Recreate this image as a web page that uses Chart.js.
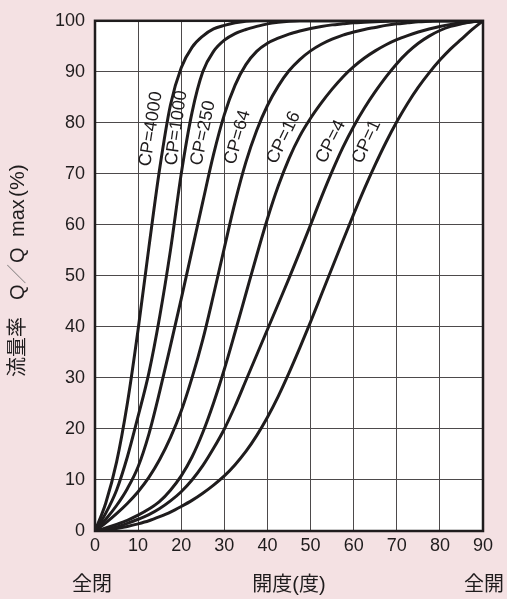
<!DOCTYPE html>
<html>
<head>
<meta charset="utf-8">
<title>流量特性</title>
<script src="https://cdn.jsdelivr.net/npm/chart.js@4/dist/chart.umd.min.js"></script>
<style>
  html, body { margin: 0; padding: 0; background: #f4e1e3; }
  canvas { display: block; }
</style>
</head>
<body>
<canvas id="flowChart" width="507" height="599"></canvas>
<script>
// 開度 (度)
const openAngle = [0, 2.5, 5, 7.5, 10, 12.5, 15, 17.5, 20, 22.5, 25, 27.5, 30, 32.5, 35, 37.5,
  40, 42.5, 45, 47.5, 50, 52.5, 55, 57.5, 60, 62.5, 65, 67.5, 70, 72.5, 75, 77.5, 80, 82.5, 85, 87.5, 90];

// 流量率 Q/Qmax (%) for each CP value
const cp4000 = [0, 5.5, 13.5, 25, 39.5, 55.6, 71, 83.5, 90.8, 94.8, 97, 98.4, 99.1, 99.6, 99.9,
  100, 100, 100, 100, 100, 100, 100, 100, 100, 100, 100, 100, 100, 100, 100, 100, 100, 100, 100, 100, 100, 100];
const cp1000 = [0, 3.5, 8, 14.5, 22.5, 31, 42, 55, 70, 82, 90, 94, 96.2, 97.5, 98.3, 98.9, 99.4, 99.7,
  99.9, 100, 100, 100, 100, 100, 100, 100, 100, 100, 100, 100, 100, 100, 100, 100, 100, 100, 100];
const cp250 = [0, 2.3, 5, 8.3, 12.6, 19, 27.3, 36.3, 45.5, 55, 64.5, 73.8, 81.6, 87.4, 91.4, 94, 95.6,
  96.6, 97.4, 98, 98.5, 98.9, 99.2, 99.4, 99.6, 99.7, 99.8, 99.9, 100, 100, 100, 100, 100, 100, 100, 100, 100];
const cp64 = [0, 1.6, 3.4, 5.4, 7.7, 10.5, 14, 18.3, 23.5, 30, 37.5, 46.3, 55.5, 64.5, 72.3, 78.5, 83.4,
  87.2, 90.2, 92.4, 94.1, 95.4, 96.4, 97.2, 97.8, 98.3, 98.7, 99.1, 99.4, 99.6, 99.8, 99.9, 100, 100, 100, 100, 100];
const cp16 = [0, 0.6, 1.3, 2.1, 3.1, 4.3, 5.8, 8, 10.8, 14.5, 19.3, 25.1, 31.7, 39, 46.5, 54, 61.2, 67.6,
  73, 77.4, 80.9, 83.9, 86.6, 89, 91, 92.7, 94.1, 95.3, 96.3, 97.1, 97.8, 98.4, 98.9, 99.3, 99.6, 99.8, 100];
const cp4 = [0, 0.3, 0.8, 1.5, 2.3, 3.2, 4.4, 5.9, 7.7, 10, 12.8, 16.2, 20, 24.5, 29.5, 34.5, 39.5,
  44.5, 49.5, 54.7, 60, 65.4, 70.5, 75.2, 79.3, 82.9, 86.1, 89, 91.6, 93.8, 95.6, 97, 98.1, 98.9, 99.4, 99.8, 100];
const cp1 = [0, 0.2, 0.5, 0.9, 1.4, 2, 2.8, 3.7, 4.8, 6, 7.4, 9, 10.8, 13, 15.6, 18.7, 22.3, 26.4,
  31, 35.9, 41, 46.3, 51.6, 56.9, 62.1, 67.1, 71.8, 76.2, 80.2, 83.8, 87, 89.8, 92.3, 94.5, 96.4, 98.3, 100];

const seriesNames = ['CP=4000', 'CP=1000', 'CP=250', 'CP=64', 'CP=16', 'CP=4', 'CP=1'];
const seriesValues = [cp4000, cp1000, cp250, cp64, cp16, cp4, cp1];

const xTicks = [0, 10, 20, 30, 40, 50, 60, 70, 80, 90];
const yTicks = [0, 10, 20, 30, 40, 50, 60, 70, 80, 90, 100];

// where each CP label sits (in axis units) and its slant
const curveLabelAt = [[13, 78.8], [18.9, 79], [25.1, 78], [33.1, 77.2], [43.8, 77.1], [54.7, 76.3], [63, 76.3]];
const curveLabelAngle = [-81, -82, -78, -74, -64, -63, -65];

const inkColor = '#1f1c1d';
const latinFont = "'Liberation Sans', Arial, sans-serif";
const cjkFont = "'Liberation Sans', 'Noto Sans CJK JP', sans-serif";

const paperPlugin = {
  id: 'paper',
  beforeDraw(chart) {
    const { ctx, chartArea: a } = chart;
    ctx.save();
    ctx.fillStyle = '#f4e1e3';
    ctx.fillRect(0, 0, chart.width, chart.height);
    ctx.fillStyle = '#ffffff';
    ctx.fillRect(a.left, a.top, a.right - a.left, a.bottom - a.top);
    ctx.restore();
  },
  afterDraw(chart) {
    const { ctx, chartArea: a, scales } = chart;
    ctx.save();

    // outer frame
    ctx.strokeStyle = inkColor;
    ctx.lineWidth = 2.5;
    ctx.strokeRect(a.left, a.top, a.right - a.left, a.bottom - a.top);

    // CP labels along the curves
    ctx.fillStyle = inkColor;
    ctx.font = '18px ' + latinFont;
    ctx.textAlign = 'center';
    ctx.textBaseline = 'middle';
    seriesNames.forEach((name, i) => {
      const px = scales.x.getPixelForValue(curveLabelAt[i][0]);
      const py = scales.y.getPixelForValue(curveLabelAt[i][1]);
      ctx.save();
      ctx.translate(px, py);
      ctx.rotate(curveLabelAngle[i] * Math.PI / 180);
      ctx.fillText(name, 0, 0);
      ctx.restore();
    });

    // labels under the x axis
    ctx.font = '20px ' + cjkFont;
    ctx.textBaseline = 'middle';
    ctx.fillText('全閉', scales.x.getPixelForValue(0) - 3, 585);
    ctx.fillText('開度(度)', (a.left + a.right) / 2, 585);
    ctx.fillText('全開', scales.x.getPixelForValue(90) + 1, 585);

    // y axis title, read bottom to top
    ctx.save();
    ctx.translate(18, 377);
    ctx.rotate(-Math.PI / 2);
    ctx.textAlign = 'left';
    ctx.font = '20px ' + cjkFont;
    ctx.fillText('流量率', 0, 0);
    ctx.fillText('Q', 77, 0);
    ctx.fillStyle = '#8a8485';
    ctx.fillText('／', 93, 0);
    ctx.fillStyle = inkColor;
    ctx.fillText('Q', 114, 0);
    ctx.fillText('max', 140, 0);
    ctx.font = '21px ' + latinFont;
    ctx.fillText('(%)', 180, 0);
    ctx.restore();

    ctx.restore();
  }
};

const ctx = document.getElementById('flowChart').getContext('2d');
const flowChart = new Chart(ctx, {
  type: 'line',
  data: {
    datasets: seriesNames.map((name, i) => ({
      label: name,
      data: openAngle.map((x, j) => ({ x: x, y: seriesValues[i][j] })),
      borderColor: inkColor,
      borderWidth: 3,
      pointRadius: 0,
      fill: false,
      cubicInterpolationMode: 'monotone',
    })),
  },
  options: {
    responsive: false,
    animation: false,
    layout: { padding: { top: 12, right: 24, left: 0, bottom: 0 } },
    plugins: {
      legend: { display: false },
      tooltip: { enabled: false },
    },
    scales: {
      x: {
        type: 'linear',
        min: 0,
        max: 90,
        afterFit(scale) { scale.height = 68; },
        afterBuildTicks(scale) { scale.ticks = xTicks.map(v => ({ value: v })); },
        ticks: {
          color: inkColor,
          font: { family: latinFont, size: 18 },
          padding: 4,
          maxRotation: 0,
        },
        grid: { color: '#4d4a4b', lineWidth: 1, drawTicks: false },
        border: { display: false },
      },
      y: {
        type: 'linear',
        min: 0,
        max: 100,
        afterFit(scale) { scale.width = 95; },
        afterBuildTicks(scale) { scale.ticks = yTicks.map(v => ({ value: v })); },
        ticks: {
          color: inkColor,
          font: { family: latinFont, size: 18 },
          padding: 10,
        },
        grid: { color: '#4d4a4b', lineWidth: 1, drawTicks: false },
        border: { display: false },
      },
    },
  },
  plugins: [paperPlugin],
});
</script>
</body>
</html>
